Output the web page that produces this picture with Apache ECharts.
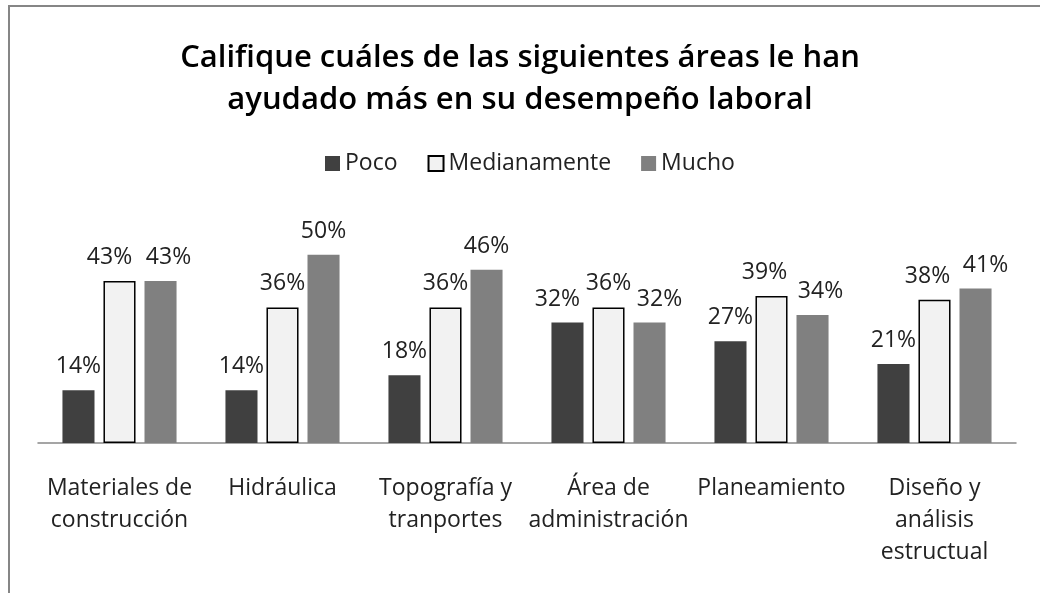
<!DOCTYPE html>
<html>
<head>
<meta charset="utf-8">
<script src="https://cdn.jsdelivr.net/npm/echarts@6/dist/echarts.min.js"></script>
<style>
  html, body { margin: 0; padding: 0; background: #fff; }
  #chart { width: 1040px; height: 593px; }
</style>
</head>
<body>
<div id="chart"></div>
<script>
const categories = [
  'Materiales de\nconstrucción',
  'Hidráulica',
  'Topografía y\ntranportes',
  'Área de\nadministración',
  'Planeamiento',
  'Diseño y\nanálisis\nestructual'
];
const poco = [14, 14, 18, 32, 27, 21];
const medianamente = [43, 36, 36, 36, 39, 38];
const mucho = [43, 50, 46, 32, 34, 41];

// horizontal nudges of the value labels, as in the original (avoid overlaps)
const pocoShift = [0, 0, 0, -10, 0, 0];
const medianamenteShift = [-10, 0, 0, 0, -7, -7];
const muchoShift = [8, 0, 0, 10, 8, 10];

const font = '"Open Sans", sans-serif';

const chart = echarts.init(document.getElementById('chart'));

const label = {
  show: true,
  position: 'top',
  distance: 12,
  fontFamily: font,
  fontSize: 23,
  color: '#222',
  formatter: p => p.value + '%'
};

const withShift = (values, shifts) => values.map((v, i) => ({
  value: v,
  label: { offset: [shifts[i], 0] }
}));

chart.setOption({
  animation: false,
  title: {
    text: 'Califique cuáles de las siguientes áreas le han\nayudado más en su desempeño laboral',
    left: 'center',
    top: 32,
    textStyle: {
      fontFamily: font,
      fontWeight: 600,
      fontSize: 31,
      lineHeight: 42,
      color: '#000'
    }
  },
  legend: {
    top: 147,
    left: 320,
    itemWidth: 15,
    itemHeight: 15,
    itemGap: 30,
    textStyle: { fontFamily: font, fontSize: 23, color: '#222' },
    data: [
      { name: 'Poco', icon: 'rect' },
      { name: 'Medianamente', icon: 'rect' },
      { name: 'Mucho', icon: 'rect' }
    ]
  },
  grid: { left: 38, right: 24, top: 217, bottom: 150, containLabel: false },
  xAxis: {
    type: 'category',
    data: categories,
    axisLine: { lineStyle: { color: '#888', width: 1.5 } },
    axisTick: { show: false },
    axisLabel: {
      interval: 0,
      margin: 29,
      fontFamily: font,
      fontSize: 23,
      lineHeight: 32,
      color: '#222'
    }
  },
  yAxis: {
    type: 'value',
    min: 0,
    max: 60,
    show: false,
    splitLine: { show: false }
  },
  series: [
    {
      name: 'Poco',
      type: 'bar',
      data: withShift(poco, pocoShift),
      barGap: '28%',
      barCategoryGap: '30%',
      itemStyle: { color: '#404040' },
      label: label
    },
    {
      name: 'Medianamente',
      type: 'bar',
      data: withShift(medianamente, medianamenteShift),
      itemStyle: { color: '#f2f2f2', borderColor: '#000', borderWidth: 1.5 },
      label: label
    },
    {
      name: 'Mucho',
      type: 'bar',
      data: withShift(mucho, muchoShift),
      itemStyle: { color: '#808080' },
      label: label
    }
  ],
  graphic: [{
    type: 'rect',
    shape: { x: 9, y: 6, width: 1100, height: 700 },
    style: { fill: 'none', stroke: '#868686', lineWidth: 2 },
    silent: true
  }]
});
</script>
</body>
</html>
